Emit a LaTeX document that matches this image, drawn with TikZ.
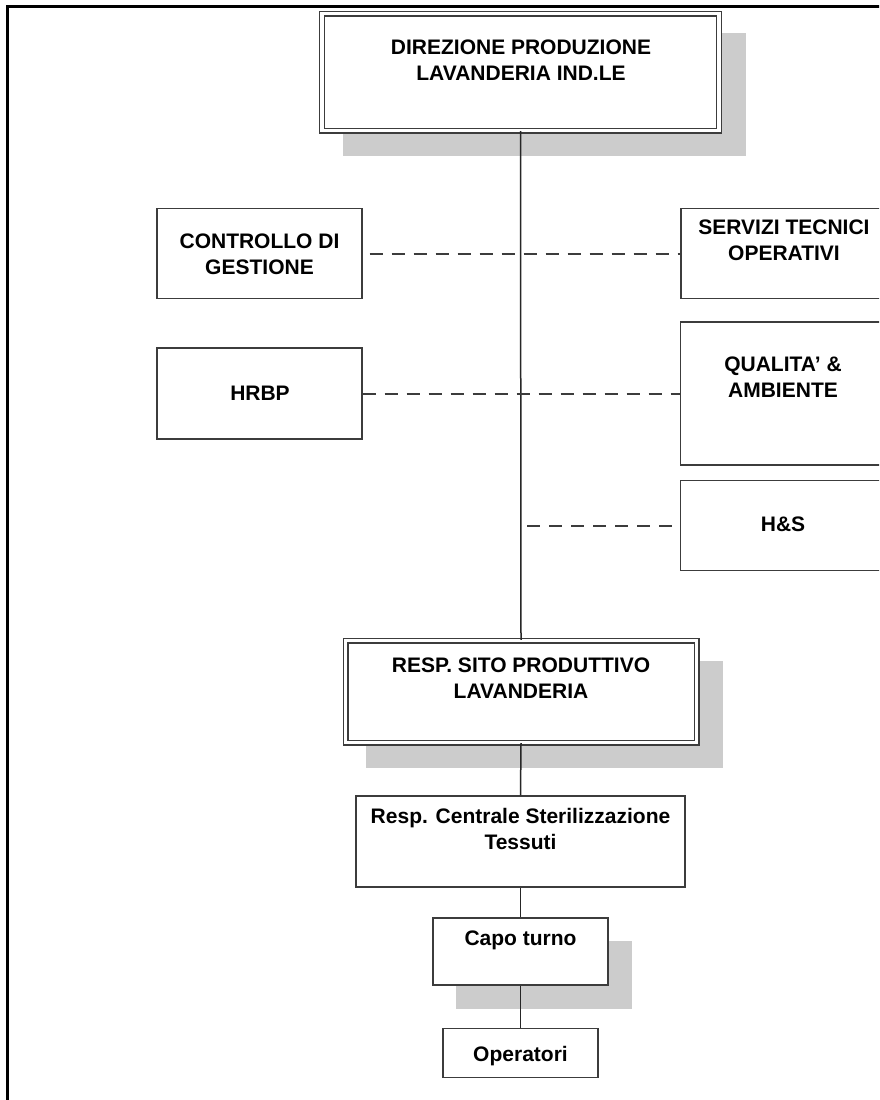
\documentclass[tikz,border=0pt]{standalone}
\usepackage{fontspec}
\setmainfont{Liberation Sans}
\definecolor{shadowc}{RGB}{204,204,204}
\definecolor{linec}{RGB}{60,60,60}
\begin{document}
\begin{tikzpicture}[x=1pt,y=-1pt,
  box/.style={draw=linec, line width=1.3pt, rectangle, inner sep=0pt, fill=white},
  dbox/.style={draw=linec, line width=1.1pt, double=white, double distance=3.8pt, rectangle, inner sep=0pt, fill=white},
  txt/.style={font=\bfseries\fontsize{21}{26}\selectfont, align=center, anchor=base, inner sep=0pt},
  trunk/.style={draw=black!85, line width=1.5pt},
  dashconn/.style={draw=linec, line width=2pt, dash pattern=on 13pt off 9pt},
  frame/.style={draw=black, line width=2.6pt}]
\useasboundingbox (0,0) rectangle (879,1100);
\clip (0,0) rectangle (879,1100);
\fill[white] (0,0) rectangle (879,1100);
% frame
\draw[frame] (7.5,1110) -- (7.5,6.5) -- (890,6.5);
% shadows
\fill[shadowc] (343,33) rectangle (746,156);
\fill[shadowc] (366,661) rectangle (723,768);
\fill[shadowc] (456,941) rectangle (632,1009);
% boxes
\node[dbox, minimum width=397pt, minimum height=117pt] (dir) at (520.5,72) {};
\node[box, minimum width=205pt, minimum height=90pt] (ctrl) at (259.5,253.5) {};
\node[box, minimum width=205pt, minimum height=90pt] (serv) at (783.5,253.5) {};
\node[box, minimum width=205pt, minimum height=91pt] (hrbp) at (259.5,393.5) {};
\node[box, minimum width=205pt, minimum height=143pt] (qual) at (783,393.5) {};
\node[box, minimum width=205pt, minimum height=90pt] (hs) at (783,525.5) {};
\node[dbox, minimum width=351pt, minimum height=102pt] (resp) at (521,691.5) {};
\node[box, minimum width=329pt, minimum height=91pt] (cent) at (520.5,841.5) {};
\node[box, minimum width=175pt, minimum height=67pt] (capo) at (520.5,951.5) {};
\node[box, minimum width=155pt, minimum height=49pt] (oper) at (520.5,1053) {};
% texts (base anchor = baseline of the last line)
\node[txt] (tdir) at (521,80) {DIREZIONE PRODUZIONE\\LAVANDERIA IND.LE};
\node[txt] (tctrl) at (259.5,274) {CONTROLLO DI\\GESTIONE};
\node[txt] (tserv) at (784,260) {SERVIZI TECNICI\\OPERATIVI};
\node[txt] (thrbp) at (260,400) {HRBP};
\node[txt] (tqual) at (783,397) {QUALITA’ \&\\AMBIENTE};
\node[txt] (ths) at (783,531) {H\&S};
\node[txt] (tresp) at (521,698) {RESP. SITO PRODUTTIVO\\LAVANDERIA};
\node[txt] (tcent) at (520.5,849) {Resp. Centrale Sterilizzazione\\Tessuti};
\node[txt] (tcapo) at (520.5,945) {Capo turno};
\node[txt] (toper) at (520.5,1061) {Operatori};
% trunk
\draw[trunk] (dir.south) -- (resp.north);
\draw[trunk] (resp.south) -- (cent.north);
\draw[trunk] (cent.south) -- (capo.north);
\draw[trunk] (capo.south) -- (oper.north);
% dashed staff links
\coordinate (hsstart) at (527,525.5);
\draw[dashconn] (ctrl.east) ++(7,0) -- (serv.west);
\draw[dashconn] (hrbp.east) -- (qual.west);
\draw[dashconn] (hsstart) -- (hs.west);
\end{tikzpicture}
\end{document}
